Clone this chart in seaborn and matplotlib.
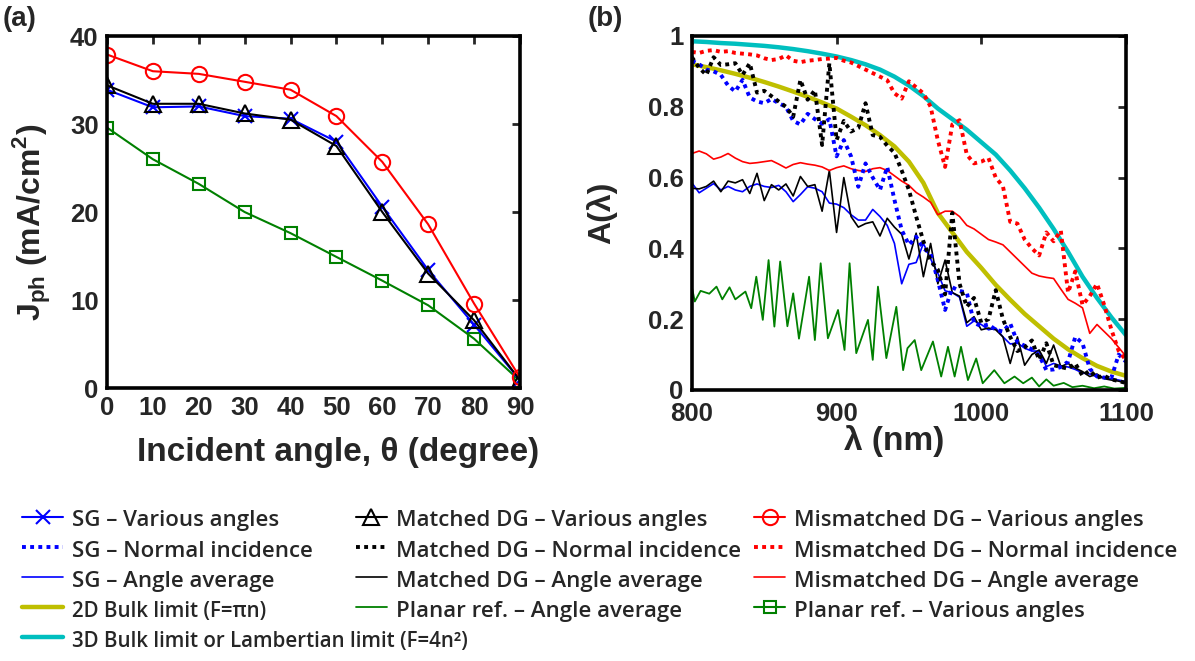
import matplotlib
matplotlib.use("Agg")
import matplotlib.pyplot as plt
from matplotlib.font_manager import FontProperties
import seaborn as sns

# ---------------- Panel (a) data ----------------
angles = [0, 10, 20, 30, 40, 50, 60, 70, 80, 90]
sg_angles = [33.9, 31.9, 32.0, 30.9, 30.6, 28.0, 20.6, 13.4, 7.2, 0.9]
matched_angles = [34.4, 32.3, 32.3, 31.2, 30.5, 27.5, 20.0, 13.0, 7.7, 0.9]
mismatched_angles = [37.9, 36.0, 35.7, 34.8, 33.9, 30.9, 25.7, 18.6, 9.6, 1.2]
planar_angles = [29.6, 26.0, 23.2, 20.0, 17.6, 14.9, 12.2, 9.4, 5.6, 0.8]

# ---------------- Panel (b) data ----------------
wl = list(range(800, 1101, 5))
wl_smooth = list(range(800, 1101, 10))

lambertian_3d = [0.985, 0.983, 0.98, 0.978, 0.975, 0.972, 0.968, 0.963, 0.957, 0.95,
                 0.942, 0.932, 0.92, 0.905, 0.885, 0.86, 0.83, 0.795, 0.765, 0.735,
                 0.70, 0.665, 0.62, 0.57, 0.515, 0.455, 0.39, 0.32, 0.26, 0.205, 0.155]
bulk_2d = [0.92, 0.912, 0.903, 0.893, 0.882, 0.87, 0.857, 0.843, 0.828, 0.812,
           0.795, 0.772, 0.748, 0.72, 0.688, 0.645, 0.585, 0.50, 0.445, 0.39,
           0.345, 0.297, 0.255, 0.215, 0.18, 0.145, 0.115, 0.09, 0.068, 0.052, 0.04]

mismatched_avg = [0.668, 0.675, 0.667, 0.652, 0.658, 0.668, 0.655, 0.645, 0.64, 0.642,
                  0.645, 0.648, 0.638, 0.627, 0.637, 0.642, 0.638, 0.635, 0.63, 0.62,
                  0.628, 0.633, 0.625, 0.62, 0.617, 0.625, 0.628, 0.62, 0.605, 0.59,
                  0.578, 0.558, 0.545, 0.53, 0.495, 0.505, 0.505, 0.49, 0.465, 0.455,
                  0.44, 0.425, 0.418, 0.41, 0.39, 0.37, 0.35, 0.33, 0.322, 0.318,
                  0.315, 0.285, 0.256, 0.245, 0.232, 0.16, 0.185, 0.165, 0.145, 0.12, 0.095]
mismatched_normal = [0.955, 0.952, 0.958, 0.96, 0.955, 0.957, 0.952, 0.95, 0.948, 0.945,
                     0.937, 0.932, 0.935, 0.945, 0.93, 0.926, 0.93, 0.932, 0.935, 0.936,
                     0.938, 0.93, 0.925, 0.915, 0.905, 0.895, 0.885, 0.875, 0.838, 0.823,
                     0.872, 0.855, 0.838, 0.80, 0.705, 0.63, 0.75, 0.762, 0.665, 0.64,
                     0.645, 0.655, 0.60, 0.575, 0.475, 0.47, 0.425, 0.40, 0.38, 0.445,
                     0.42, 0.45, 0.275, 0.335, 0.24, 0.265, 0.30, 0.24, 0.17, 0.11, 0.085]
matched_avg = [0.57, 0.568, 0.575, 0.59, 0.56, 0.59, 0.585, 0.594, 0.555, 0.612,
               0.535, 0.58, 0.565, 0.582, 0.548, 0.603, 0.575, 0.58, 0.505, 0.62,
               0.445, 0.60, 0.49, 0.46, 0.47, 0.475, 0.435, 0.485, 0.46, 0.44,
               0.37, 0.443, 0.32, 0.414, 0.30, 0.367, 0.275, 0.265, 0.19, 0.207,
               0.17, 0.175, 0.17, 0.15, 0.075, 0.15, 0.07, 0.10, 0.113, 0.075,
               0.127, 0.066, 0.075, 0.062, 0.052, 0.038, 0.045, 0.032, 0.028, 0.025, 0.019]
matched_normal = [0.94, 0.91, 0.89, 0.94, 0.918, 0.92, 0.923, 0.89, 0.923, 0.84,
                  0.845, 0.83, 0.815, 0.80, 0.772, 0.876, 0.82, 0.847, 0.692, 0.923,
                  0.706, 0.76, 0.73, 0.74, 0.81, 0.72, 0.715, 0.69, 0.67, 0.62,
                  0.565, 0.49, 0.42, 0.365, 0.34, 0.27, 0.50, 0.30, 0.235, 0.26,
                  0.19, 0.20, 0.282, 0.20, 0.15, 0.11, 0.12, 0.14, 0.085, 0.132,
                  0.07, 0.065, 0.06, 0.075, 0.04, 0.055, 0.035, 0.04, 0.03, 0.025, 0.02]
sg_avg = [0.585, 0.557, 0.57, 0.583, 0.565, 0.575, 0.565, 0.56, 0.575, 0.582,
          0.575, 0.572, 0.578, 0.56, 0.532, 0.552, 0.574, 0.57, 0.56, 0.528,
          0.525, 0.515, 0.495, 0.48, 0.48, 0.51, 0.49, 0.465, 0.414, 0.30,
          0.355, 0.36, 0.414, 0.37, 0.33, 0.28, 0.275, 0.262, 0.18, 0.195,
          0.185, 0.17, 0.175, 0.15, 0.13, 0.133, 0.118, 0.11, 0.11, 0.066,
          0.075, 0.068, 0.065, 0.058, 0.048, 0.045, 0.038, 0.035, 0.032, 0.028, 0.024]
sg_normal = [0.93, 0.92, 0.905, 0.90, 0.89, 0.86, 0.843, 0.876, 0.826, 0.815,
             0.81, 0.822, 0.81, 0.80, 0.76, 0.75, 0.78, 0.765, 0.752, 0.765,
             0.66, 0.706, 0.66, 0.574, 0.64, 0.60, 0.565, 0.63, 0.537, 0.452,
             0.41, 0.433, 0.40, 0.385, 0.31, 0.226, 0.29, 0.28, 0.275, 0.19,
             0.18, 0.185, 0.17, 0.165, 0.188, 0.135, 0.125, 0.115, 0.098, 0.056,
             0.058, 0.065, 0.08, 0.15, 0.132, 0.06, 0.038, 0.035, 0.035, 0.10, 0.08]
planar_wl = [800, 802, 806, 812, 817, 821, 826, 830, 837, 841, 844.5, 849, 853, 857,
             861, 866, 870, 874, 881, 885, 889, 894, 901, 905.5, 909, 913.6, 921.7,
             925, 928.6, 934.4, 941.3, 946, 949, 954, 958.5, 966.6, 972.3, 977,
             981.6, 986, 990.8, 996.5, 1001, 1009, 1016, 1023, 1029, 1035, 1040,
             1045, 1050, 1057, 1063, 1070, 1078, 1085, 1092, 1100]
planar_avg = [0.29, 0.25, 0.28, 0.272, 0.292, 0.256, 0.29, 0.256, 0.278, 0.231, 0.32,
              0.198, 0.367, 0.179, 0.363, 0.18, 0.273, 0.145, 0.32, 0.141, 0.358,
              0.146, 0.226, 0.113, 0.358, 0.104, 0.198, 0.085, 0.292, 0.09, 0.235,
              0.056, 0.118, 0.141, 0.056, 0.137, 0.038, 0.122, 0.038, 0.122, 0.028,
              0.089, 0.019, 0.056, 0.019, 0.038, 0.019, 0.035, 0.01, 0.03, 0.012,
              0.02, 0.008, 0.012, 0.005, 0.01, 0.004, 0.006]

# ---------------- Labels ----------------
col1_labels = ["SG \u2013 Various angles", "SG \u2013 Normal incidence", "SG \u2013 Angle average",
               "2D Bulk limit (F=\u03c0n)", "3D Bulk limit or Lambertian limit (F=4n\u00b2)"]
col2_labels = ["Matched DG \u2013 Various angles", "Matched DG \u2013 Normal incidence",
               "Matched DG \u2013 Angle average", "Planar ref. \u2013 Angle average"]
col3_labels = ["Mismatched DG \u2013 Various angles", "Mismatched DG \u2013 Normal incidence",
               "Mismatched DG \u2013 Angle average", "Planar ref. \u2013 Various angles"]
small_labels = {col1_labels[3], col1_labels[4]}

BLUE, RED, BLACK = "#0000FF", "#FF0000", "#000000"
GREEN, YELLOW, CYAN = "#008000", "#BFBF00", "#00BFBF"

sns.set_style("white")
plt.rcParams["font.family"] = ["Liberation Sans", "DejaVu Sans"]
plt.rcParams["mathtext.fontset"] = "custom"
plt.rcParams["mathtext.rm"] = "Liberation Sans"
plt.rcParams["mathtext.bf"] = "Liberation Sans:bold"
plt.rcParams["legend.numpoints"] = 1

fig = plt.figure(figsize=(11.95, 6.61), dpi=100)
ax1 = fig.add_axes([0.0895, 0.413, 0.3456, 0.5325])
ax2 = fig.add_axes([0.579, 0.41, 0.3632, 0.5356])

# ---- panel (a)
sns.lineplot(x=angles, y=planar_angles, ax=ax1, color=GREEN, lw=1.5, marker="s",
             markersize=9, markerfacecolor="none", markeredgecolor=GREEN,
             markeredgewidth=1.5, label=col3_labels[3], estimator=None, sort=False)
sns.lineplot(x=angles, y=sg_angles, ax=ax1, color=BLUE, lw=1.5, marker="x",
             markersize=10, markeredgecolor=BLUE, markeredgewidth=1.5,
             label=col1_labels[0], estimator=None, sort=False)
sns.lineplot(x=angles, y=matched_angles, ax=ax1, color=BLACK, lw=1.5, marker="^",
             markersize=11, markerfacecolor="none", markeredgecolor=BLACK,
             markeredgewidth=1.5, label=col2_labels[0], estimator=None, sort=False)
sns.lineplot(x=angles, y=mismatched_angles, ax=ax1, color=RED, lw=1.5, marker="o",
             markersize=11, markerfacecolor="none", markeredgecolor=RED,
             markeredgewidth=1.5, label=col3_labels[0], estimator=None, sort=False)

# ---- panel (b)
dot = (0, (1, 1.1))
sns.lineplot(x=wl_smooth, y=bulk_2d, ax=ax2, color=YELLOW, lw=3.2,
             label=col1_labels[3], estimator=None, sort=False)
sns.lineplot(x=wl_smooth, y=lambertian_3d, ax=ax2, color=CYAN, lw=3.2,
             label=col1_labels[4], estimator=None, sort=False)
sns.lineplot(x=planar_wl, y=planar_avg, ax=ax2, color=GREEN, lw=1.3,
             label=col2_labels[3], estimator=None, sort=False)
sns.lineplot(x=wl, y=sg_avg, ax=ax2, color=BLUE, lw=1.2,
             label=col1_labels[2], estimator=None, sort=False)
sns.lineplot(x=wl, y=matched_avg, ax=ax2, color=BLACK, lw=1.2,
             label=col2_labels[2], estimator=None, sort=False)
sns.lineplot(x=wl, y=mismatched_avg, ax=ax2, color=RED, lw=1.2,
             label=col3_labels[2], estimator=None, sort=False)
sns.lineplot(x=wl, y=sg_normal, ax=ax2, color=BLUE, lw=2.8, linestyle=dot,
             label=col1_labels[1], estimator=None, sort=False)
sns.lineplot(x=wl, y=matched_normal, ax=ax2, color=BLACK, lw=2.8, linestyle=dot,
             label=col2_labels[1], estimator=None, sort=False)
sns.lineplot(x=wl, y=mismatched_normal, ax=ax2, color=RED, lw=2.8, linestyle=dot,
             label=col3_labels[1], estimator=None, sort=False)

handles = {}
for ax in (ax1, ax2):
    h, l = ax.get_legend_handles_labels()
    handles.update(dict(zip(l, h)))
    if ax.get_legend() is not None:
        ax.get_legend().remove()

# ---- axes styling
TICK = 18.5
LAB = 24
tick_font = dict(fontsize=TICK, fontweight="bold")
for ax in (ax1, ax2):
    for s in ax.spines.values():
        s.set_linewidth(2.6)
        s.set_color("black")
        s.set_visible(True)
    ax.tick_params(direction="in", top=True, right=True, length=6, width=2,
                   labelsize=TICK, pad=6)
    ax.grid(False)
ax2.tick_params(axis="x", pad=9)

ax1.set_xlim(0, 90)
ax1.set_ylim(0, 40)
ax1.set_xticks([0, 10, 20, 30, 40, 50, 60, 70, 80, 90])
ax1.set_xticklabels(["0", "10", "20", "30", "40", "50", "60", "70", "80", "90"], **tick_font)
ax1.set_yticks([0, 10, 20, 30, 40])
ax1.set_yticklabels(["0", "10", "20", "30", "40"], **tick_font)
ax1.set_xlabel("Incident angle, \u03b8 (degree)", fontsize=LAB, fontweight="bold")
ax1.xaxis.set_label_coords(0.56, -0.14)
ax1.set_ylabel(r"$\mathbf{J_{ph}}$ (mA/cm$^{\mathbf{2}}$)", fontsize=23, fontweight="bold")
ax1.yaxis.set_label_coords(-0.13, 0.47)

ax2.set_xlim(800, 1100)
ax2.set_ylim(0, 1)
ax2.set_xticks([800, 900, 1000, 1100])
ax2.set_xticklabels(["800", "900", "1000", "1100"], **tick_font)
ax2.set_yticks([0, 0.2, 0.4, 0.6, 0.8, 1.0])
ax2.set_yticklabels(["0", "0.2", "0.4", "0.6", "0.8", "1"], **tick_font)
ax2.set_xlabel("\u03bb (nm)", fontsize=LAB, fontweight="bold")
ax2.xaxis.set_label_coords(0.465, -0.1)
ax2.set_ylabel("A(\u03bb)", fontsize=23, fontweight="bold")
ax2.yaxis.set_label_coords(-0.172, 0.5)

fig.text(0.002, 0.972, "(a)", fontsize=20, fontweight="bold", va="center", ha="left")
fig.text(0.492, 0.972, "(b)", fontsize=20, fontweight="bold", va="center", ha="left")

# ---- legends (three columns below the panels)
big_fp = FontProperties(family=["Open Sans", "DejaVu Sans"], weight=600, size=16)
small_fp = FontProperties(family=["Open Sans", "DejaVu Sans"], weight=600, size=14.8)
common = dict(frameon=False, loc="upper left", borderpad=0, borderaxespad=0,
              handletextpad=0.4, handleheight=1.34, labelspacing=0.24, prop=big_fp)
layout = [(col1_labels, (0.0184, 0.2335), 1.85),
          (col2_labels, (0.2975, 0.2335), 1.4),
          (col3_labels, (0.631, 0.2335), 1.4)]
for labels, anchor, hl in layout:
    leg = fig.legend([handles[k] for k in labels], labels, bbox_to_anchor=anchor,
                     handlelength=hl, **common)
    for t in leg.get_texts():
        if t.get_text() in small_labels:
            t.set_fontproperties(small_fp)

fig.savefig("out.png", dpi=100)
